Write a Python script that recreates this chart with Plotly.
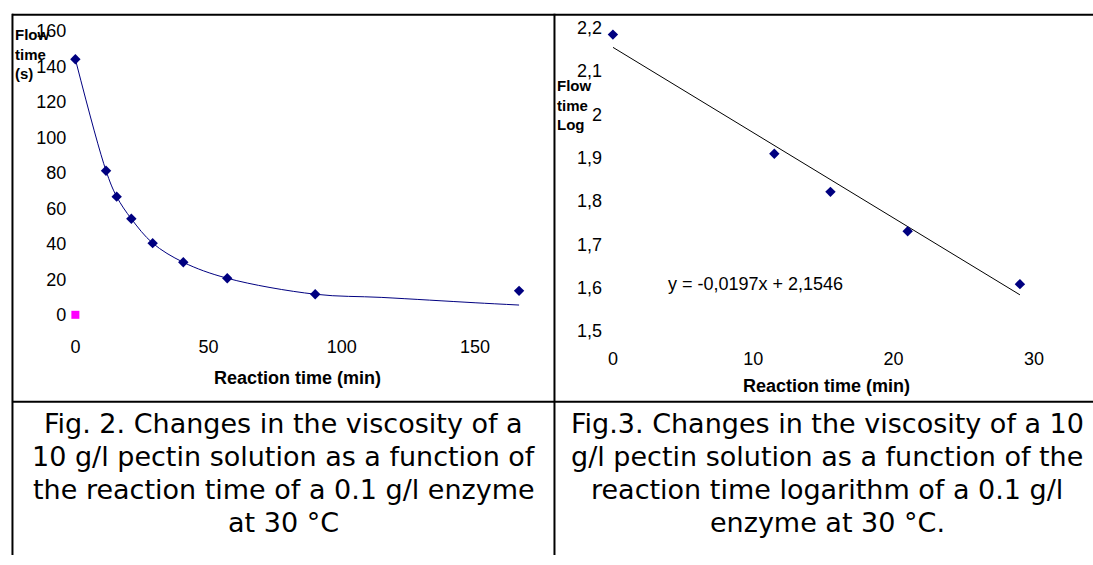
import plotly.graph_objects as go

W, H = 1093, 565

# ---------------- Fig. 2 data ----------------
fig2_time = [0, 11.5, 15.5, 21, 29, 40.5, 57, 90, 166.5]
fig2_flow = [144, 81.2, 66.6, 54.1, 40.4, 29.6, 20.6, 11.6, 13.5]
fig2_curve_time = [0, 11.5, 15.5, 21, 29, 40.5, 57, 90, 115, 150, 166.5]
fig2_curve_flow = [144, 81.2, 66.6, 54.1, 40.4, 29.6, 20.6, 11.6, 9.8, 6.8, 5.5]
fig2_blank_time = [0]
fig2_blank_flow = [0]
fig2_xticks = [0, 50, 100, 150]
fig2_yticks = [0, 20, 40, 60, 80, 100, 120, 140, 160]

# ---------------- Fig. 3 data ----------------
fig3_time = [0, 11.5, 15.5, 21, 29]
fig3_logflow = [2.184, 1.909, 1.821, 1.730, 1.608]
trend_slope = -0.0197
trend_intercept = 2.1546
trend_time = [0, 29]
fig3_xticks = [0, 10, 20, 30]
fig3_yticks = [1.5, 1.6, 1.7, 1.8, 1.9, 2.0, 2.1, 2.2]
fig3_yticktext = ["1,5", "1,6", "1,7", "1,8", "1,9", "2", "2,1", "2,2"]
trend_label = "y = -0,0197x + 2,1546"

caption2 = ["Fig. 2. Changes in the viscosity of a",
            "10 g/l pectin solution as a function of",
            "the reaction time of a 0.1 g/l enzyme",
            "at 30 °C"]
caption3 = ["Fig.3. Changes in the viscosity of a 10",
            "g/l pectin solution as a function of the",
            "reaction time logarithm of a 0.1 g/l",
            "enzyme at 30 °C."]


def px(x):
    return x / W


def py(y):
    return 1 - y / H


ARIAL = "Arial, 'Liberation Sans', sans-serif"
CAPF = "Verdana, 'DejaVu Sans', sans-serif"
NAVY = "#000080"

trend_vals = [trend_slope * t + trend_intercept for t in trend_time]

fig = go.Figure()
fig.add_trace(go.Scatter(x=fig2_curve_time, y=fig2_curve_flow, mode="lines",
                         line=dict(color=NAVY, width=1, shape="spline"),
                         xaxis="x", yaxis="y", hoverinfo="skip"))
fig.add_trace(go.Scatter(x=fig2_time, y=fig2_flow, mode="markers",
                         marker=dict(symbol="diamond", size=8, color=NAVY),
                         xaxis="x", yaxis="y", cliponaxis=False))
fig.add_trace(go.Scatter(x=fig2_blank_time, y=fig2_blank_flow, mode="markers",
                         marker=dict(symbol="square", size=8, color="#FF00FF"),
                         xaxis="x", yaxis="y", cliponaxis=False))
fig.add_trace(go.Scatter(x=trend_time, y=trend_vals, mode="lines",
                         line=dict(color="black", width=1),
                         xaxis="x2", yaxis="y2", hoverinfo="skip"))
fig.add_trace(go.Scatter(x=fig3_time, y=fig3_logflow, mode="markers",
                         marker=dict(symbol="diamond", size=8, color=NAVY),
                         xaxis="x2", yaxis="y2", cliponaxis=False))

axis_common = dict(showgrid=False, zeroline=False, showline=False, ticks="",
                   tickfont=dict(family=ARIAL, size=18, color="black"),
                   tickmode="array", fixedrange=True)

fig.update_layout(
    width=W, height=H,
    margin=dict(l=0, r=0, t=0, b=0, pad=0),
    paper_bgcolor="white", plot_bgcolor="white",
    showlegend=False,
    separators=", ",
    xaxis=dict(domain=[px(70.7), px(525.8)], range=[0, 170], anchor="y",
               tickvals=fig2_xticks, ticklabelstandoff=19, **axis_common),
    yaxis=dict(domain=[py(316), py(21.7)], range=[0, 160], anchor="x",
               tickvals=fig2_yticks, ticklabelstandoff=8, **axis_common),
    xaxis2=dict(domain=[px(610.7), px(1076)], range=[0, 33], anchor="y2",
                tickvals=fig3_xticks, ticklabelstandoff=15, **axis_common),
    yaxis2=dict(domain=[py(332.7), py(18.3)], range=[1.5, 2.2], anchor="x2",
                tickvals=fig3_yticks, ticktext=fig3_yticktext,
                ticklabelstandoff=10, **axis_common),
)

ann = []
# axis titles
ann.append(dict(text="<b>Reaction time (min)</b>", x=px(294), y=py(381.7),
                xref="paper", yref="paper", showarrow=False,
                xanchor="center", yanchor="middle",
                font=dict(family=ARIAL, size=18, color="black")))
ann.append(dict(text="<b>Reaction time (min)</b>", x=px(825.3), y=py(390),
                xref="paper", yref="paper", showarrow=False,
                xanchor="center", yanchor="middle",
                font=dict(family=ARIAL, size=18, color="black")))
ann.append(dict(text="<b>Flow<br>time<br>(s)</b>", x=px(8.3), y=py(45.3),
                xref="paper", yref="paper", showarrow=False, align="left",
                xanchor="left", yanchor="middle",
                font=dict(family=ARIAL, size=15, color="black")))
ann.append(dict(text="<b>Flow<br>time<br>Log</b>", x=px(552.5), y=py(99),
                xref="paper", yref="paper", showarrow=False, align="left",
                xanchor="left", yanchor="middle",
                font=dict(family=ARIAL, size=15, color="black")))
# trend equation
ann.append(dict(text=trend_label, x=10.14, y=1.608, xref="x2", yref="y2",
                showarrow=False, xanchor="center", yanchor="middle",
                font=dict(family=ARIAL, size=18, color="black")))
# captions
cap_y = [429, 463, 497, 531]
for line, yy in zip(caption2, cap_y):
    ann.append(dict(text=line, x=px(280), y=py(yy), xref="paper", yref="paper",
                    showarrow=False, xanchor="center", yanchor="middle",
                    font=dict(family=CAPF, size=27, color="black")))
for line, yy in zip(caption3, cap_y):
    ann.append(dict(text=line, x=px(826), y=py(yy), xref="paper", yref="paper",
                    showarrow=False, xanchor="center", yanchor="middle",
                    font=dict(family=CAPF, size=27, color="black")))
fig.update_layout(annotations=ann)

# table borders
lw = 2
shapes = [
    dict(type="line", x0=px(7), x1=1, y0=py(5), y1=py(5)),
    dict(type="line", x0=px(7.5), x1=px(7.5), y0=py(4), y1=0),
    dict(type="line", x0=px(552), x1=px(552), y0=py(4), y1=0),
    dict(type="line", x0=px(7), x1=1, y0=py(406), y1=py(406)),
]
for s in shapes:
    s.update(xref="paper", yref="paper", line=dict(color="black", width=lw))
fig.update_layout(shapes=shapes)

fig.write_html("out.html", config={"displayModeBar": False},
               post_script="document.body.style.margin='0';"
                           "document.body.style.overflow='hidden';")
